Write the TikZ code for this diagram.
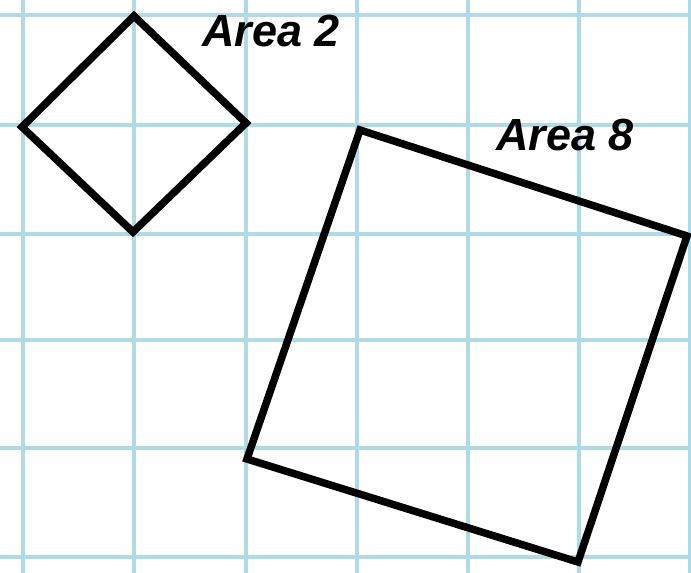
\documentclass[tikz,border=0pt]{standalone}
\usepackage{fontspec}
\setmainfont{Liberation Sans}
\definecolor{gridblue}{RGB}{175,218,232}
\begin{document}
\begin{tikzpicture}[x=1pt,y=-1pt,
  gridline/.style={gridblue,line width=3.5pt},
  shapeline/.style={black,line width=7.5pt,line join=miter},
  arealabel/.style={font=\fontsize{45}{45}\selectfont\bfseries\itshape,inner sep=0pt,anchor=base}]
\useasboundingbox (0,0) rectangle (691,573);
\fill[white] (0,0) rectangle (691,573);
% grid
\foreach \x in {23,134,246,357,468,579,690}
  \draw[gridline] (\x,0) -- (\x,573);
\foreach \y in {15,125,234,340,448,557}
  \draw[gridline] (0,\y) -- (691,\y);
% small square (area 2)
\coordinate (d1) at (134,16);
\coordinate (d2) at (246,123);
\coordinate (d3) at (133,232);
\coordinate (d4) at (22,127);
\draw[shapeline] (d1) -- (d2) -- (d3) -- (d4) -- cycle;
% big square (area 8)
\coordinate (s1) at (360,130);
\coordinate (s2) at (687,236);
\coordinate (s3) at (578,562);
\coordinate (s4) at (247,459);
\draw[shapeline] (s1) -- (s2) -- (s3) -- (s4) -- cycle;
% labels
\node[arealabel] (l2) at (271,46) {Area 2};
\node[arealabel] (l8) at (565,150) {Area 8};
\end{tikzpicture}
\end{document}
